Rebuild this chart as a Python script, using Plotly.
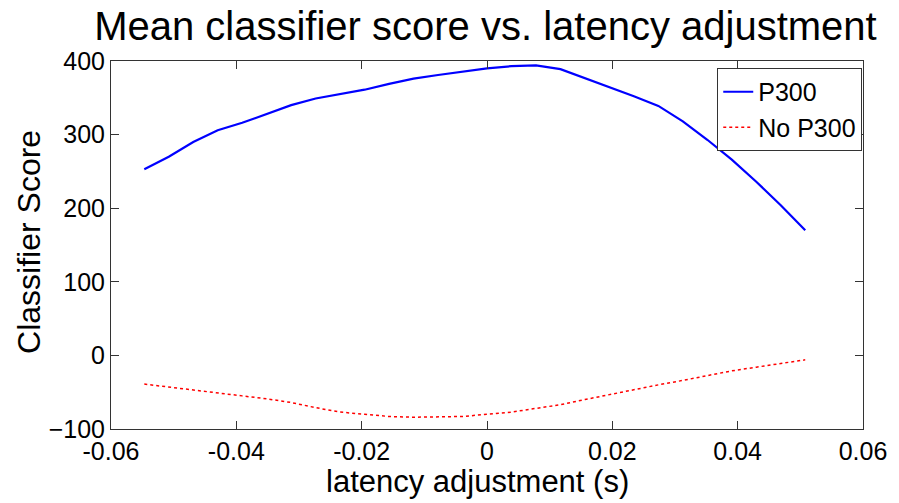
import plotly.graph_objects as go

# latency shifts in samples at 256 Hz
fs = 256
shift_samples = list(range(-14, 14))
latency = [n / fs for n in shift_samples]

p300_score = [253, 270, 290, 306, 316, 328, 340, 349, 355, 361, 369, 376, 381, 386,
              390, 393, 394, 389, 377, 364, 352, 339, 318, 293, 266, 236, 204, 170]
no_p300_score = [-39, -43, -48, -52, -55, -59, -64, -71, -77, -80, -83, -84, -84, -83,
                 -80, -77, -72, -67, -60, -53, -46, -40, -34, -27, -21, -16, -11, -6]

x_ticks = [-0.06, -0.04, -0.02, 0, 0.02, 0.04, 0.06]
x_tick_text = ["-0.06", "-0.04", "-0.02", "0", "0.02", "0.04", "0.06"]
y_ticks = [-100, 0, 100, 200, 300, 400]

FONT = "Liberation Sans, Arial, sans-serif"

fig = go.Figure()
fig.add_trace(go.Scatter(x=latency, y=p300_score, mode="lines", name="P300",
                         line=dict(color="#0000ff", width=2.2)))
fig.add_trace(go.Scatter(x=latency, y=no_p300_score, mode="lines", name="No P300",
                         line=dict(color="#ff0000", width=1.5, dash="dot")))

axis_common = dict(showgrid=False, zeroline=False, showline=True, mirror="ticks",
                   linecolor="#333333", linewidth=1, ticks="inside", ticklen=8,
                   tickcolor="#333333", ticklabelstandoff=0,
                   tickfont=dict(family=FONT, size=25, color="black"))

fig.update_layout(
    width=899, height=503,
    margin=dict(l=111, r=32, t=61, b=74),
    paper_bgcolor="white", plot_bgcolor="white",
    title=dict(text="Mean classifier score vs. latency adjustment",
               font=dict(family=FONT, size=40, color="black"),
               x=0.54, xanchor="center", y=1 - 26 / 503, yanchor="middle",
               automargin=False),
    xaxis=dict(range=[-0.06, 0.06], tickvals=x_ticks, ticktext=x_tick_text,
               **axis_common),
    yaxis=dict(range=[-100, 400], tickvals=y_ticks, **axis_common),
    legend=dict(x=0.999, y=0.981, xanchor="right", yanchor="top",
                bgcolor="white", bordercolor="#333333", borderwidth=1,
                font=dict(family=FONT, size=25, color="black"),
                entrywidth=125, entrywidthmode="pixels",
                tracegroupgap=0),
    showlegend=True,
)

# axis titles
fig.add_annotation(text="latency adjustment (s)", xref="paper", yref="paper",
                   x=0.487, y=-0.142, xanchor="center", yanchor="middle",
                   showarrow=False, font=dict(family=FONT, size=31, color="black"))
fig.add_annotation(text="Classifier Score", xref="paper", yref="paper",
                   x=-0.1098, y=0.5095, xanchor="center", yanchor="middle",
                   textangle=-90, showarrow=False,
                   font=dict(family=FONT, size=32, color="black"))

fig.write_html("out.html")
